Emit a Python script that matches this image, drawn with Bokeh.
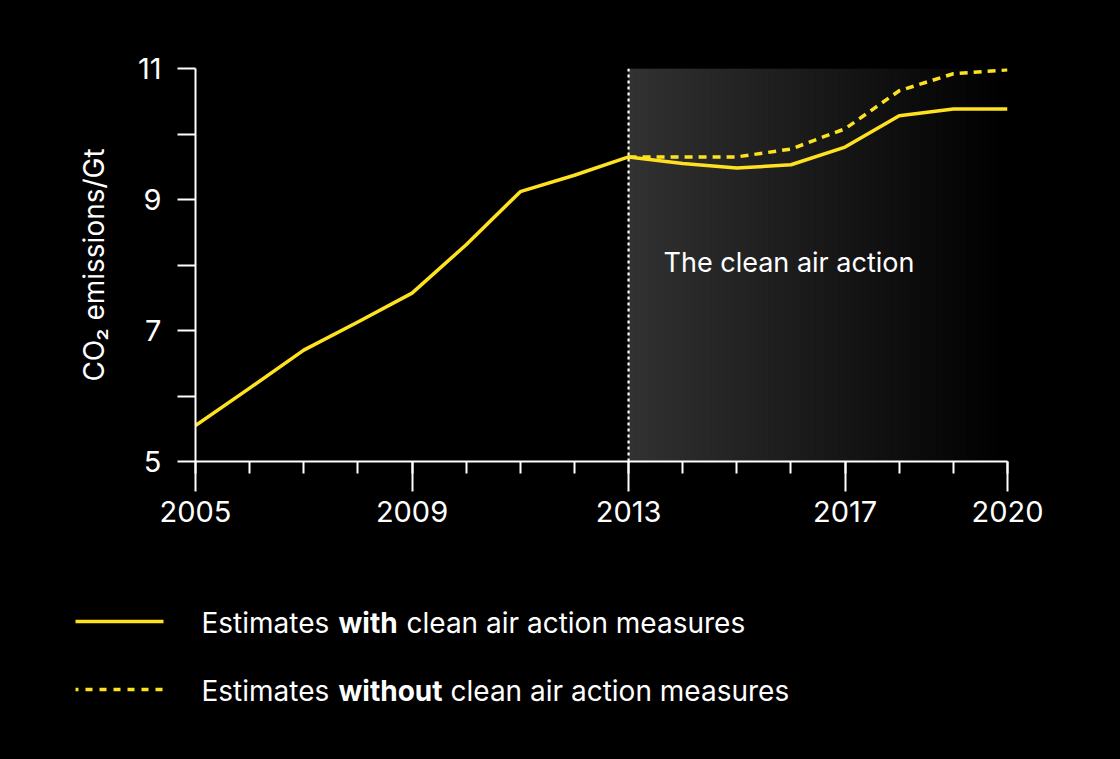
import numpy as np
from bokeh.plotting import figure
from bokeh.models import Range1d, FixedTicker
from bokeh.core.properties import value
from bokeh.embed import file_html
from bokeh.resources import INLINE

# ---------------- data ----------------
years_with = [2005, 2006, 2007, 2008, 2009, 2010, 2011, 2012, 2013,
              2014, 2015, 2016, 2017, 2018, 2019, 2020]
emissions_with = [5.55, 6.12, 6.70, 7.13, 7.57, 8.31, 9.12, 9.37, 9.65,
                  9.55, 9.48, 9.53, 9.80, 10.28, 10.38, 10.38]

years_without = [2013, 2014, 2015, 2016, 2017, 2018, 2019, 2020]
emissions_without = [9.65, 9.65, 9.65, 9.77, 10.08, 10.66, 10.92, 10.98]

x_major_ticks = [2005, 2009, 2013, 2017, 2020]
x_tick_labels = ["2005", "2009", "2013", "2017", "2020"]
x_minor_ticks = list(range(2005, 2021))
y_major_ticks = [5, 7, 9, 11]
y_tick_labels = ["5", "7", "9", "11"]
y_minor_ticks = [6, 8, 10]

action_start = 2013
action_end = 2020
action_label = "The clean air action"
y_label = "CO\u2082 emissions/Gt"
legend_with = ["Estimates", "with", "clean air action measures"]
legend_without = ["Estimates", "without", "clean air action measures"]

# ---------------- style ----------------
YELLOW = "#FFE21F"
FONT = "Inter"
X0, X1, Y0, Y1 = 2005, 2020, 5, 11

p = figure(frame_width=812, frame_height=393,
           x_range=Range1d(X0, X1), y_range=Range1d(Y0, Y1),
           min_border_left=187, min_border_right=105,
           min_border_top=60, min_border_bottom=107,
           output_backend="svg", toolbar_location=None,
           background_fill_color="black", border_fill_color="black",
           outline_line_color=None)
p.grid.visible = False

# gradient band for the clean air action period
n = 160
edges = np.linspace(action_start, action_end, n + 1)
frac = (edges[:-1] + edges[1:]) / 2.0
frac = (frac - action_start) / (action_end - action_start)
shade = (0x32 * (1 - frac)).round().astype(int)
colors = ["#%02x%02x%02x" % (s, s, s) for s in shade]
p.quad(left=edges[:-1], right=edges[1:] + 0.03, bottom=Y0, top=Y1,
       fill_color=colors, line_color=None)

p.segment(x0=[action_start], y0=[Y0], x1=[action_start], y1=[Y1],
          line_color="white", line_width=2.2, line_dash="3 3")

p.text(x=[2013.645], y=[8.04], text=[action_label],
       text_font=value(FONT), text_font_size="27px", text_color="white",
       text_baseline="alphabetic", text_align="left")

p.line(years_without, emissions_without, line_color=YELLOW, line_width=3.5,
       line_dash="8 6")
p.line(years_with, emissions_with, line_color=YELLOW, line_width=3.5,
       line_join="round")

# axes
for ax in (p.xaxis[0], p.yaxis[0]):
    ax.axis_line_color = "white"
    ax.axis_line_width = 2
    ax.major_tick_line_color = "white"
    ax.major_tick_line_width = 2
    ax.minor_tick_line_color = "white"
    ax.minor_tick_line_width = 2
    ax.major_tick_in = 0
    ax.minor_tick_in = 0
    ax.major_label_text_color = "white"
    ax.major_label_text_font = FONT
    ax.major_label_text_font_size = "29px"

xa = p.xaxis[0]
xa.ticker = FixedTicker(ticks=x_major_ticks, minor_ticks=x_minor_ticks)
xa.major_label_overrides = {t: l for t, l in zip(x_major_ticks, x_tick_labels)}
xa.major_tick_out = 30
xa.minor_tick_out = 12
xa.major_label_standoff = 9

ya = p.yaxis[0]
ya.ticker = FixedTicker(ticks=y_major_ticks, minor_ticks=y_minor_ticks)
ya.major_label_overrides = {t: l for t, l in zip(y_major_ticks, y_tick_labels)}
ya.major_tick_out = 18
ya.minor_tick_out = 18
ya.major_label_standoff = 16
ya.axis_label = y_label
ya.axis_label_text_font = FONT
ya.axis_label_text_font_size = "28px"
ya.axis_label_text_font_style = "normal"
ya.axis_label_text_color = "white"
ya.axis_label_standoff = 24

# ---------------- legend figure (1 unit = 1 page px) ----------------
lg = figure(width=1104, height=180, x_range=Range1d(8, 1112),
            y_range=Range1d(748, 568), x_axis_type=None, y_axis_type=None,
            min_border=0, output_backend="svg", toolbar_location=None,
            background_fill_color="black", border_fill_color="black",
            outline_line_color=None)
lg.grid.visible = False

lg.segment(x0=[75], y0=[621], x1=[163], y1=[621], line_color=YELLOW,
           line_width=3.5)
lg.segment(x0=[75], y0=[689], x1=[163], y1=[689], line_color=YELLOW,
           line_width=3.5, line_dash="7 7", line_dash_offset=4)

def legend_row(parts, y, xs):
    for txt, x, style in zip(parts, xs, ["normal", "bold", "normal"]):
        lg.text(x=[x], y=[y], text=[txt], text_font=value(FONT),
                text_font_size="28px", text_font_style=style,
                text_color="white", text_baseline="alphabetic",
                text_align="left")

legend_row(legend_with, 622, [201, 338, 406])
legend_row(legend_without, 690, [201, 338, 450])

html = file_html([p, lg], INLINE, title="chart")
html = html.replace("</head>",
                    "<style>html{margin:0;background:#000;}body{background:#000;margin:8px;}</style></head>", 1)
open("out.html", "w").write(html)
